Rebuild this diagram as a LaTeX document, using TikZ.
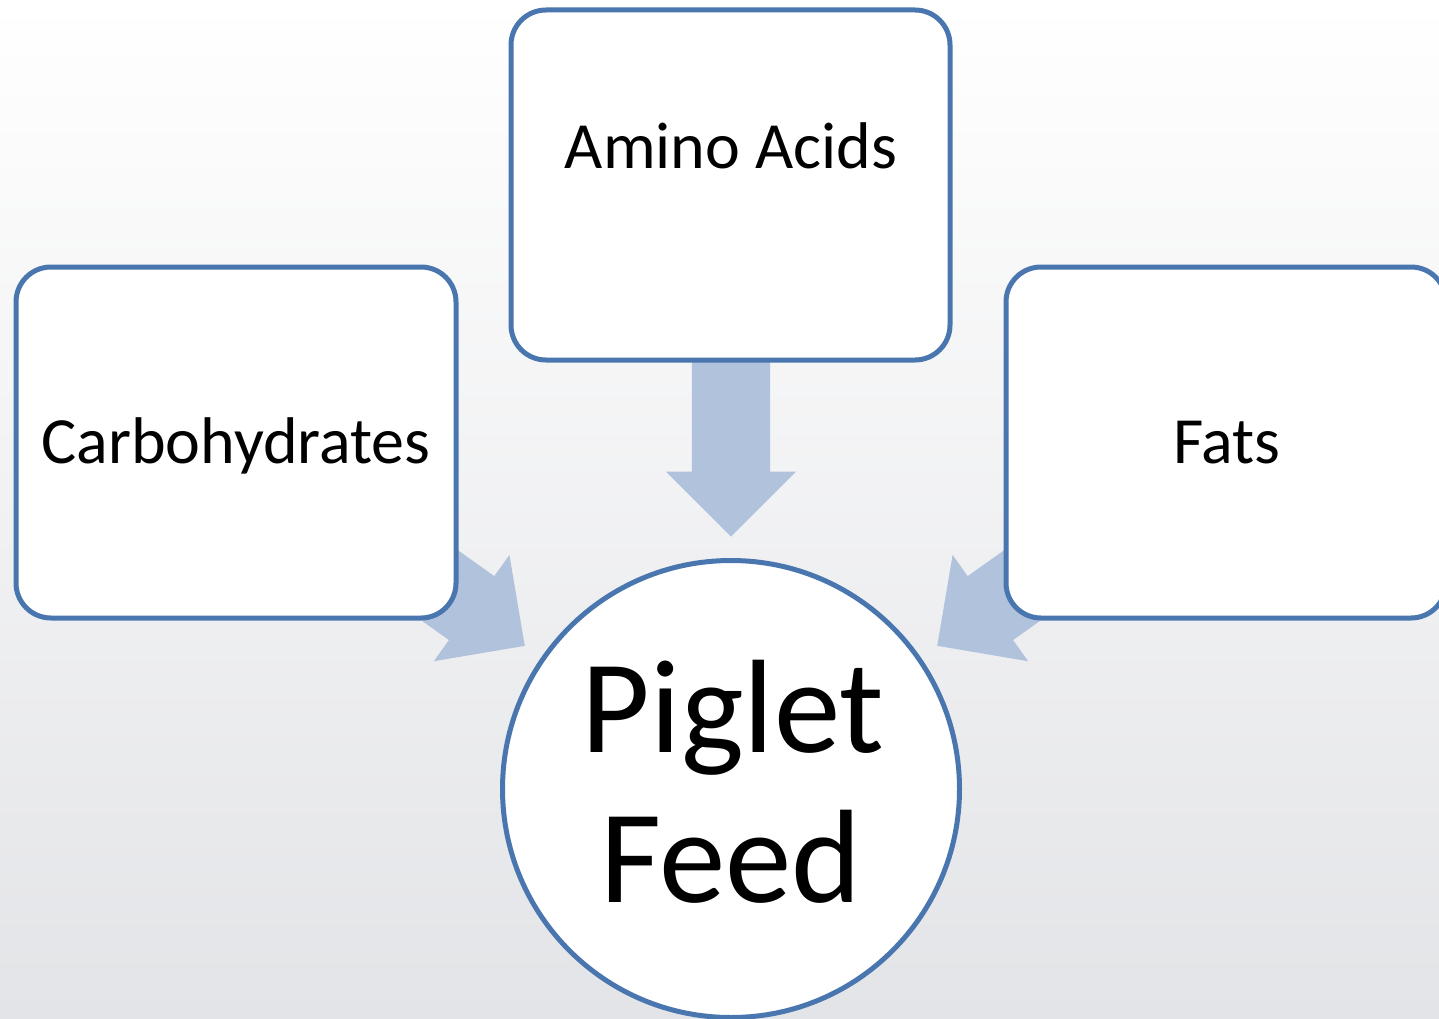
\documentclass[tikz,border=0pt]{standalone}
\usepackage{fontspec}
\setmainfont{Carlito}
\usetikzlibrary{shapes.arrows}
\definecolor{edgeblue}{RGB}{74,118,175}
\definecolor{arrowfill}{RGB}{177,194,221}
\definecolor{bgbottom}{RGB}{227,228,231}
\tikzset{
  itembox/.style={draw=edgeblue, line width=5pt, fill=white, rounded corners=35pt,
    minimum width=440pt, minimum height=351pt, inner sep=0pt},
  hubcircle/.style={draw=edgeblue, line width=5pt, fill=white, circle,
    minimum size=457pt, inner sep=0pt},
  blockarrow/.style={single arrow, fill=arrowfill, draw=none, inner xsep=0pt, inner ysep=39pt,
    single arrow head extend=26pt, single arrow tip angle=90,
    anchor=tip},
  lbl/.style={font=\fontsize{66}{79}\selectfont, anchor=base, inner sep=0pt},
  biglbl/.style={font=\fontsize{133}{150}\selectfont, anchor=base, inner sep=0pt}
}
\begin{document}
\begin{tikzpicture}[x=1pt,y=-1pt]
\useasboundingbox (0,0) rectangle (1439,1019);
\clip (0,0) rectangle (1439,1019);
\shade[top color=white, bottom color=bgbottom] (0,0) rectangle (1439,1019);
% arrows (behind boxes)
\node[blockarrow, rotate=-90, minimum height=230pt] (adown) at (731,537) {};
\node[blockarrow, rotate=-35.4, minimum height=220pt] (aleft) at (525,646) {};
\node[blockarrow, rotate=-144.6, minimum height=220pt] (aright) at (937,646) {};
% boxes
\node[itembox, minimum width=439pt, minimum height=350pt] (amino) at (730.5,185) {};
\node[itembox] (carbs) at (236,442.5) {};
\node[itembox] (fats) at (1226,442.5) {};
\node[hubcircle] (feed) at (731,789) {};
% labels
\node[lbl] (aminotxt) at (731,168) {Amino Acids};
\node[lbl] (carbstxt) at (236,463) {Carbohydrates};
\node[lbl] (fatstxt) at (1227,463) {Fats};
\node[biglbl] (piglettxt) at (733,752) {Piglet};
\node[biglbl] (feedtxt) at (731,902) {Feed};
\end{tikzpicture}
\end{document}
